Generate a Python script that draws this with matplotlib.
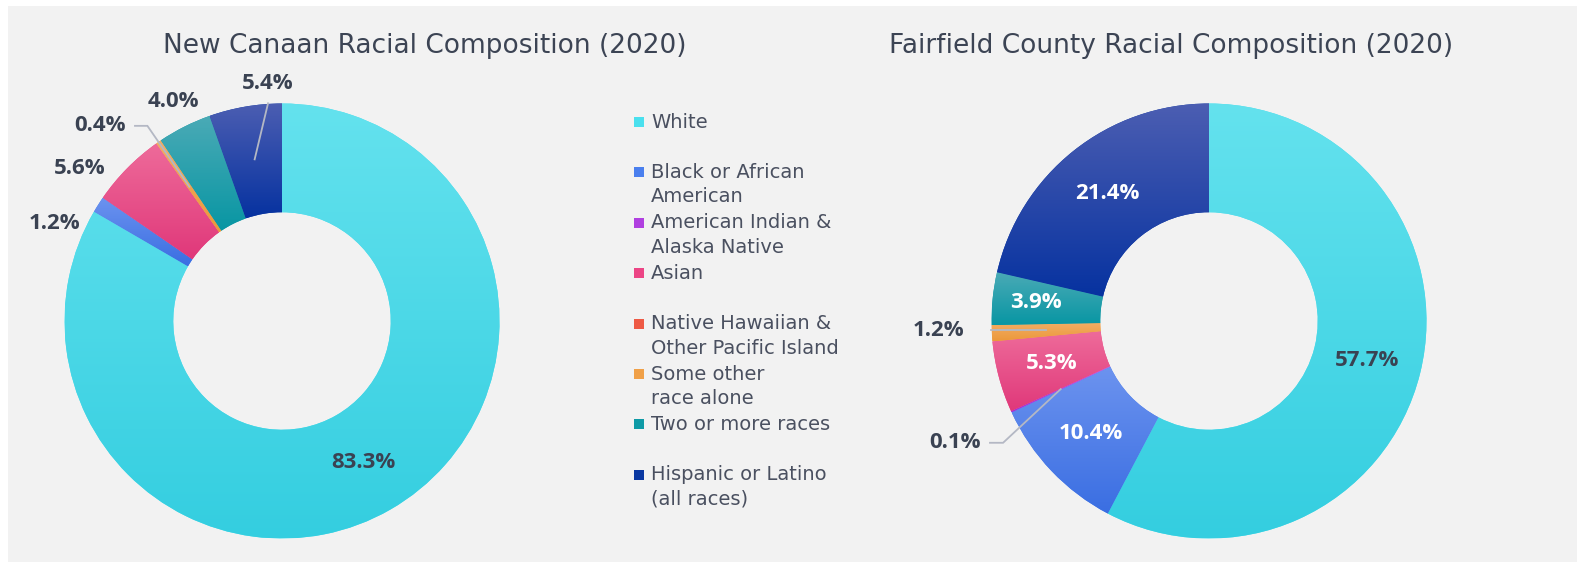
import numpy as np
import matplotlib
matplotlib.use("Agg")
import matplotlib.pyplot as plt
from matplotlib.patches import Rectangle
from matplotlib import colors as mcolors

# ---------------- data ----------------
categories = [
    "White",
    "Black or African\nAmerican",
    "American Indian &\nAlaska Native",
    "Asian",
    "Native Hawaiian &\nOther Pacific Island",
    "Some other\nrace alone",
    "Two or more races",
    "Hispanic or Latino\n(all races)",
]
new_canaan = [83.3, 1.2, 0.0, 5.6, 0.0, 0.4, 4.0, 5.4]
fairfield = [57.7, 10.4, 0.1, 5.3, 0.0, 1.2, 3.9, 21.4]
titles = ["New Canaan Racial Composition (2020)",
          "Fairfield County Racial Composition (2020)"]

# ---------------- style ----------------
base_colors = ["#4ae0ee", "#4a7fee", "#b040e0", "#ec4585",
               "#ee5a45", "#f0a048", "#0e9aa6", "#0a38a2"]
top_colors = ["#64e2ee", "#6c93ef", "#c060e8", "#ee6b9a",
              "#f07860", "#f2ae66", "#4aaab6", "#4c5eb2"]
bottom_colors = ["#34cee0", "#3a6ee2", "#a030d8", "#e0387a",
                 "#e04a35", "#ec983a", "#0896a3", "#0632a0"]
DARK = "#3a4252"
LEADER = "#b4b8c4"
plt.rcParams["font.family"] = ["Open Sans", "DejaVu Sans"]
TEXT_FONT = ["DejaVu Sans"]

W, H = 1577, 562
DPI = 100
fig = plt.figure(figsize=(W / DPI, H / DPI), dpi=DPI, facecolor="white")

# background / overlay axes in pixel coordinates
bg = fig.add_axes([0, 0, 1, 1], zorder=-5)
bg.set_xlim(0, W)
bg.set_ylim(H, 0)
bg.axis("off")
bg.add_patch(Rectangle((8, 6), W, H, facecolor="#f2f2f2", edgecolor="none"))

R_PX = 217.5
LIM = 1.02
centers = [(282, 321), (1209, 321)]


def polar(angle_deg, r):
    a = np.radians(angle_deg)
    return r * np.cos(a), r * np.sin(a)


def grad_fill(ax, w, ctop, cbot):
    th = np.radians(np.linspace(w.theta1, w.theta2, 300))
    r_out, r_in = w.r, w.r - w.width
    xs = np.concatenate([r_out * np.cos(th), r_in * np.cos(th)]) + w.center[0]
    ys = np.concatenate([r_out * np.sin(th), r_in * np.sin(th)]) + w.center[1]
    t = np.linspace(0, 1, 256)[:, None]
    c0 = np.array(mcolors.to_rgb(ctop))
    c1 = np.array(mcolors.to_rgb(cbot))
    img = (c0 * (1 - t) + c1 * t)[:, None, :]
    im = ax.imshow(img, extent=[xs.min(), xs.max(), ys.min(), ys.max()],
                   origin="upper", aspect="auto", interpolation="bilinear",
                   zorder=w.get_zorder() + 0.1)
    im.set_clip_path(w)


# label specs (placement only)
label_specs = [
    {
        0: dict(kind="in", color=DARK),
        1: dict(kind="out", pos=polar(156.7, 1.137)),
        3: dict(kind="out", pos=polar(143.0, 1.163)),
        5: dict(kind="leader", elbow_r=1.09, hend=-0.676, lx=-0.717),
        6: dict(kind="out", pos=polar(116.4, 1.125)),
        7: dict(kind="line", end=polar(93.6, 1.007), pos=polar(93.4, 1.092)),
    },
    {
        0: dict(kind="in", color=DARK),
        1: dict(kind="in", color="white"),
        2: dict(kind="leader", elbow=polar(-149.4, 1.10), hend=-1.007, lx=-1.048),
        3: dict(kind="in", color="white"),
        5: dict(kind="leader", elbow_r=0.75, hend=-1.002, lx=-1.126),
        6: dict(kind="in", color="white", r=0.80),
        7: dict(kind="in", color="white"),
    },
]

LABEL_FS = 16
for ci, (values, (cx, cy)) in enumerate(zip([new_canaan, fairfield], centers)):
    size = 2 * LIM * R_PX
    ax = fig.add_axes([(cx - LIM * R_PX) / W, (H - cy - LIM * R_PX) / H,
                       size / W, size / H])
    ax.set_facecolor("none")
    wedges, _ = ax.pie(values, startangle=90, counterclock=False, radius=1,
                       colors=base_colors,
                       wedgeprops=dict(width=0.5, linewidth=0))
    for i, w in enumerate(wedges):
        if values[i] > 0:
            grad_fill(ax, w, top_colors[i], bottom_colors[i])
    ax.set_xlim(-LIM, LIM)
    ax.set_ylim(-LIM, LIM)
    ax.set_aspect("equal")
    ax.axis("off")

    specs = label_specs[ci]
    for i, w in enumerate(wedges):
        if i not in specs or values[i] <= 0:
            continue
        s = specs[i]
        txt = f"{values[i]:.1f}%"
        mid = (w.theta1 + w.theta2) / 2
        kw = dict(fontsize=LABEL_FS, fontweight="bold", clip_on=False, zorder=10)
        if s["kind"] == "in":
            x, y = polar(mid, s.get("r", 0.75))
            ax.text(x, y, txt, ha="center", va="center", color=s["color"], **kw)
        elif s["kind"] == "out":
            x, y = s["pos"]
            ax.text(x, y, txt, ha="center", va="center", color=DARK, **kw)
        elif s["kind"] == "line":
            p0 = polar(mid, 0.75)
            p1 = s["end"]
            ax.plot([p0[0], p1[0]], [p0[1], p1[1]], color=LEADER, lw=1.3,
                    clip_on=False, zorder=9, solid_capstyle="butt")
            x, y = s["pos"]
            ax.text(x, y, txt, ha="center", va="center", color=DARK, **kw)
        elif s["kind"] == "leader":
            p0 = polar(mid, 0.75)
            if "elbow" in s:
                p1 = s["elbow"]
            else:
                p1 = polar(mid, s["elbow_r"])
            p2 = (s["hend"], p1[1])
            ax.plot([p0[0], p1[0], p2[0]], [p0[1], p1[1], p2[1]], color=LEADER,
                    lw=1.3, clip_on=False, zorder=9, solid_joinstyle="miter")
            ax.text(s["lx"], p1[1], txt, ha="right", va="center", color=DARK,
                    **kw)

# titles
title_pos = [(424.5, 46), (1171, 46)]
for t, (tx, ty) in zip(titles, title_pos):
    bg.text(tx, ty, t, ha="center", va="center", fontsize=19,
            color="#3c4454", family=TEXT_FONT)

# legend
LEG_X, LEG_Y0, LEG_DY, LINE_DY = 634, 122, 50.4, 24.5
for i, cat in enumerate(categories):
    y = LEG_Y0 + i * LEG_DY
    bg.add_patch(Rectangle((LEG_X, y - 5), 10, 10, facecolor=base_colors[i],
                           edgecolor="none"))
    for k, line in enumerate(cat.split("\n")):
        bg.text(LEG_X + 17, y + k * LINE_DY, line, ha="left", va="center",
                fontsize=14, color="#4a5060", family=TEXT_FONT)

fig.savefig("out.png", dpi=DPI, facecolor="white")
